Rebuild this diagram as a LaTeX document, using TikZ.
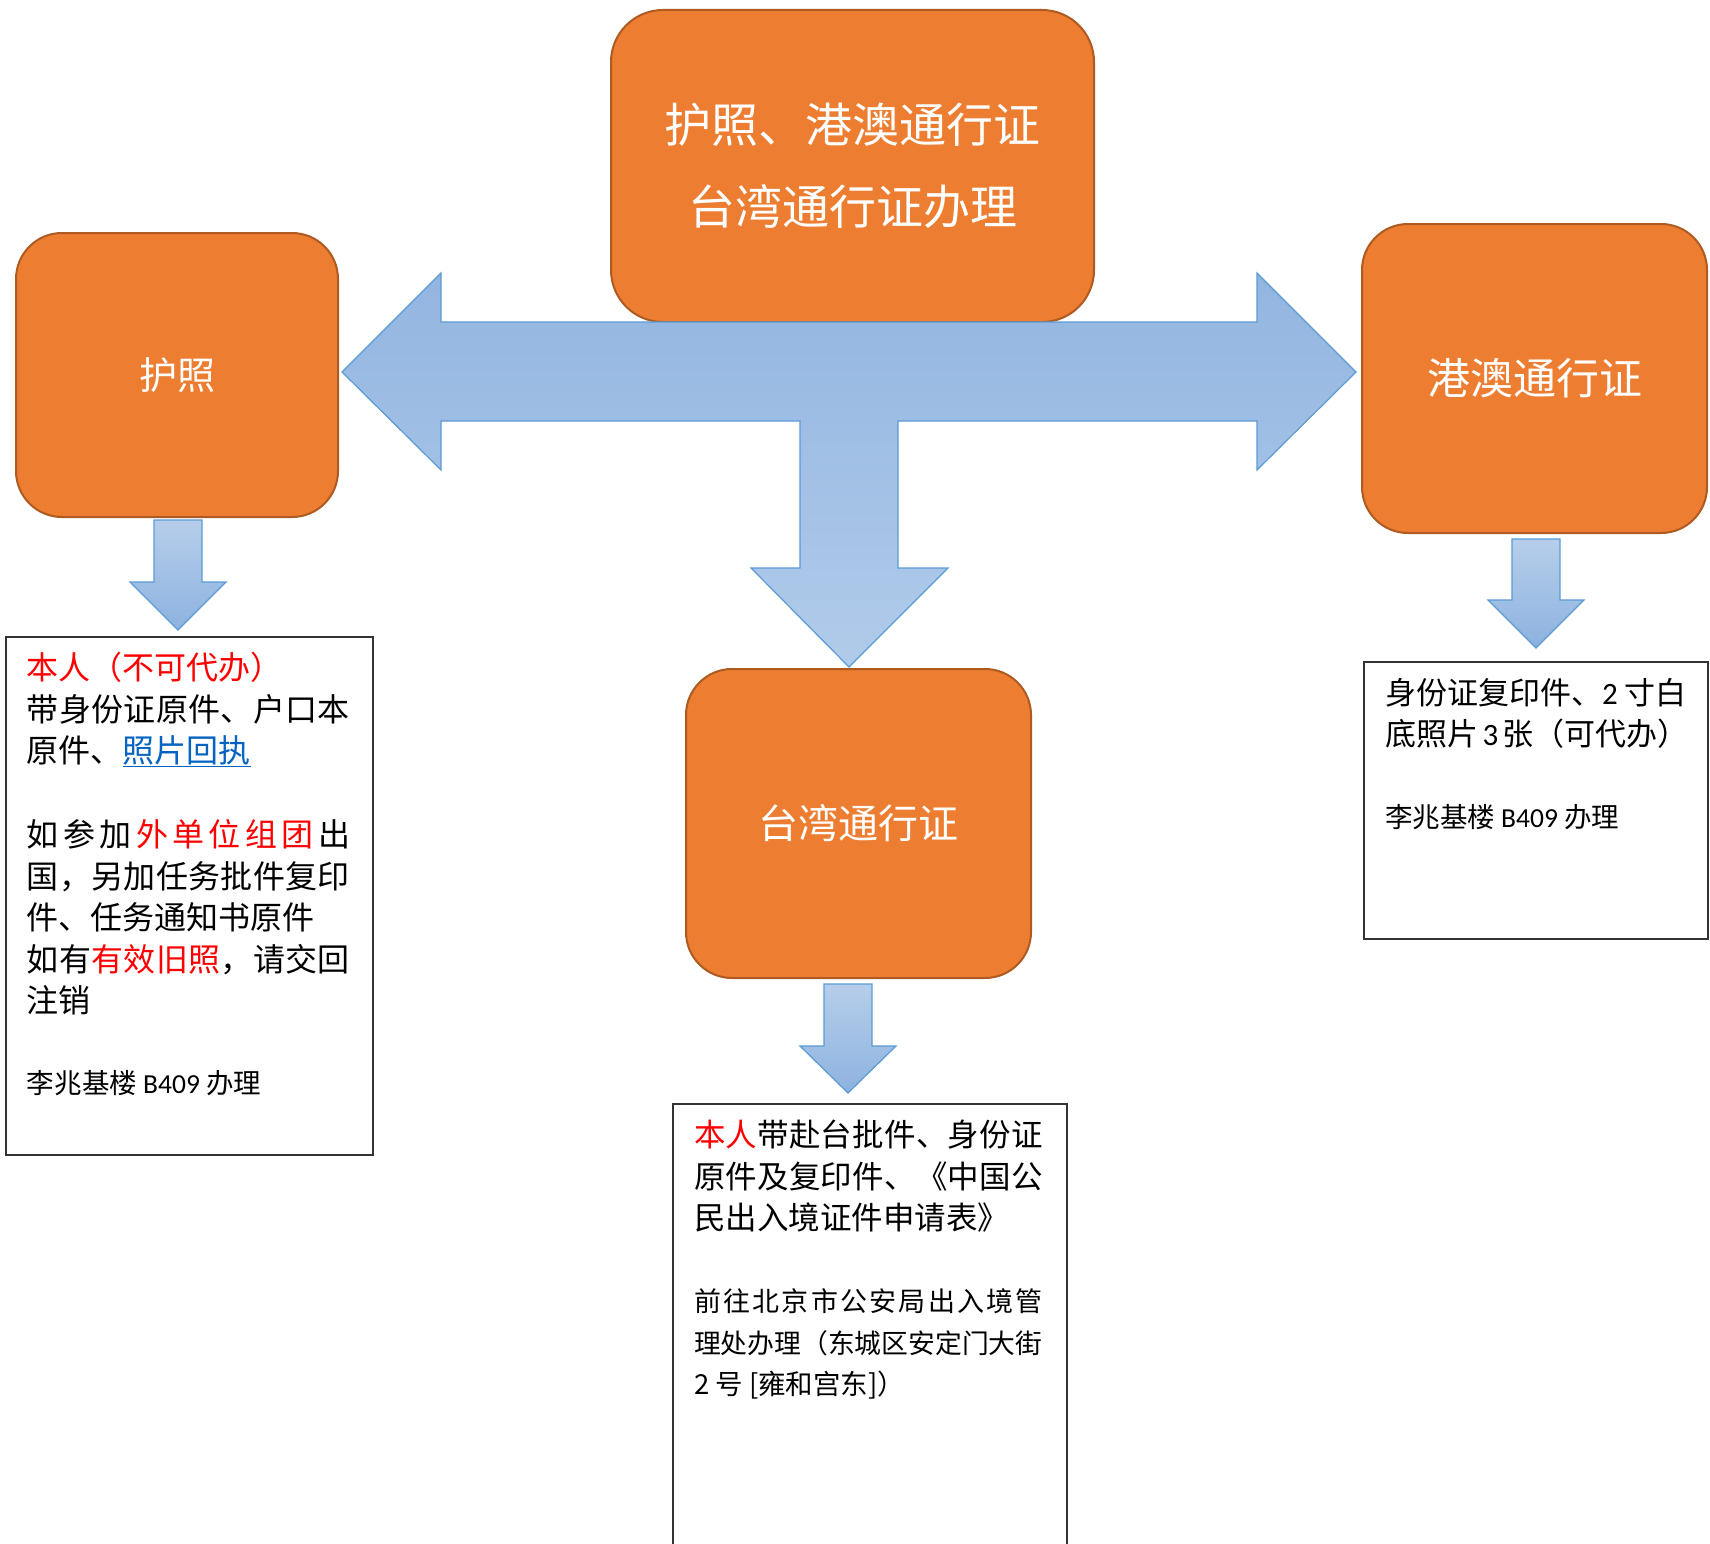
\documentclass[tikz,border=0pt]{standalone}
\usepackage{fontspec}
\setmainfont{Noto Sans CJK SC}
\newfontfamily\latf{Carlito}
\usetikzlibrary{calc}
\definecolor{orng}{HTML}{ED7D31}
\definecolor{orngline}{HTML}{AE5A21}
\definecolor{blueline}{HTML}{5B9BD5}
\definecolor{bluetop}{HTML}{92B5E0}
\definecolor{bluebot}{HTML}{B1CBEA}
\definecolor{sarrtop}{HTML}{B6CEEA}
\definecolor{sarrbot}{HTML}{8DB2E0}
\definecolor{linkblue}{HTML}{0563C1}
\definecolor{boxline}{HTML}{333333}
\definecolor{txtred}{HTML}{FF0000}
\newcommand\jg{\hfill}
\newcommand\fsz[1]{\fontsize{#1}{#1}\selectfont}
\newcommand\blockdown[3]{%
  \path[sarrow] ($(#1)+(-24,0)$) -- ($(#1)+(24,0)$) -- ($(#1)+(24,#2)$) -- ($(#1)+(48,#2)$)
    -- ($(#1)+(0,#3)$) -- ($(#1)+(-48,#2)$) -- ($(#1)+(-24,#2)$) -- cycle;}
\begin{document}
\begin{tikzpicture}[x=1pt,y=-1pt,
  obox/.style={draw=orngline, line width=2pt, fill=orng, rounded corners=46pt, text=white, inner sep=0pt, align=center},
  tbox/.style={draw=boxline, line width=1.6pt, fill=white, inner sep=0pt, anchor=north west},
  ln/.style={anchor=base west, inner sep=0pt, outer sep=0pt, text=black},
  bigarrow/.style={draw=blueline, line width=1.2pt, top color=bluetop, bottom color=bluebot},
  sarrow/.style={draw=blueline, line width=1.2pt, top color=sarrtop, bottom color=sarrbot}]
\useasboundingbox (0,0) rectangle (1710,1544);
\fill[white] (0,0) rectangle (1710,1544);

% orange boxes
\node[obox, minimum width=483pt, minimum height=312pt, rounded corners=52pt, font=\fsz{47}] (top) at (852.5,166) {护照、港澳通行证\\[35pt]台湾通行证办理};
\node[obox, minimum width=322pt, minimum height=284pt, font=\fsz{38}] (pp) at (177,375) {护照};
\node[obox, minimum width=345pt, minimum height=309pt, font=\fsz{43}] (hk) at (1534.5,378.5) {港澳通行证};
\node[obox, minimum width=345pt, minimum height=309pt, font=\fsz{40}] (tw) at (858.5,823.5) {台湾通行证};

% big T-shaped block arrow
\path[bigarrow] (342,372) -- (441,273) -- (441,322) -- (1257,322) -- (1257,273) -- (1356,372)
  -- (1257,470) -- (1257,421) -- (898,421) -- (898,568) -- (948,568) -- (849,667)
  -- (751,568) -- (800,568) -- (800,421) -- (441,421) -- (441,470) -- cycle;

% text boxes
\node[tbox, minimum width=367pt, minimum height=518pt] (pptxt) at (5,636) {};
\node[tbox, minimum width=344pt, minimum height=277pt] (hktxt) at (1363,661) {};
\node[tbox, minimum width=394pt, minimum height=470pt] (twtxt) at (672,1103) {};

% small down arrows
\coordinate (ppa) at (178,520);
\coordinate (hka) at (1536,539);
\coordinate (twa) at (848,984);
\blockdown{ppa}{62}{110}
\blockdown{hka}{61}{109}
\blockdown{twa}{62}{109}

% passport requirements
\node[ln, font=\fsz{32}] (p1) at (27,679.2) {\textcolor{txtred}{本人（不可代办）}};
\node[ln, font=\fsz{32}] (p2) at (27,721.2) {\makebox[323pt][s]{带\jg 身\jg 份\jg 证\jg 原\jg 件\jg 、\jg 户\jg 口\jg 本}};
\node[ln, font=\fsz{32}] (p3) at (27,762.2) {原件、\textcolor{linkblue}{\underline{照片回执}}};
\node[ln, font=\fsz{32}] (p4) at (27,846.2) {\makebox[323pt][s]{如\jg 参\jg 加\jg \textcolor{txtred}{外\jg 单\jg 位\jg 组\jg 团}\jg 出}};
\node[ln, font=\fsz{32}] (p5) at (27,888.2) {\makebox[323pt][s]{国\jg ，\jg 另\jg 加\jg 任\jg 务\jg 批\jg 件\jg 复\jg 印}};
\node[ln, font=\fsz{32}] (p6) at (27,929.2) {件、任务通知书原件};
\node[ln, font=\fsz{32}] (p7) at (27,971.2) {\makebox[323pt][s]{如\jg 有\jg \textcolor{txtred}{有\jg 效\jg 旧\jg 照}\jg ，\jg 请\jg 交\jg 回}};
\node[ln, font=\fsz{32}] (p8) at (27,1012.2) {注销};
\node[ln, font=\fsz{27.5}] (p9) at (27,1093.5) {李兆基楼 {\latf B409} 办理};

% HK/Macau requirements
\node[ln, font=\fsz{31}] (h1) at (1385,704.3) {\makebox[301pt][s]{身份证复印件、{\latf 2} 寸白}};
\node[ln, font=\fsz{31}] (h2) at (1385,745.8) {\makebox[303pt][s]{底照片 {\latf 3} 张（可代办）}};
\node[ln, font=\fsz{27.5}] (h3) at (1385,827.5) {李兆基楼 {\latf B409} 办理};

% Taiwan requirements
\node[ln, font=\fsz{31.5}] (t1) at (694,1146) {\makebox[349pt][s]{\textcolor{txtred}{本\jg 人}\jg 带\jg 赴\jg 台\jg 批\jg 件\jg 、\jg 身\jg 份\jg 证}};
\node[ln, font=\fsz{31.5}] (t2) at (694,1188) {\makebox[349pt][s]{原\jg 件\jg 及\jg 复\jg 印\jg 件\jg 、\jg 《\jg 中\jg 国\jg 公}};
\node[ln, font=\fsz{31.5}] (t3) at (694,1229) {民出入境证件申请表》};
\node[ln, font=\fsz{27}] (t4) at (694,1311.3) {\makebox[349pt][s]{前\jg 往\jg 北\jg 京\jg 市\jg 公\jg 安\jg 局\jg 出\jg 入\jg 境\jg 管}};
\node[ln, font=\fsz{26.8}] (t5) at (694,1353.3) {理处办理（东城区安定门大街};
\node[ln, font=\fsz{27.5}] (t6) at (694,1394.5) {2 号 [雍和宫东]）};
\end{tikzpicture}
\end{document}
